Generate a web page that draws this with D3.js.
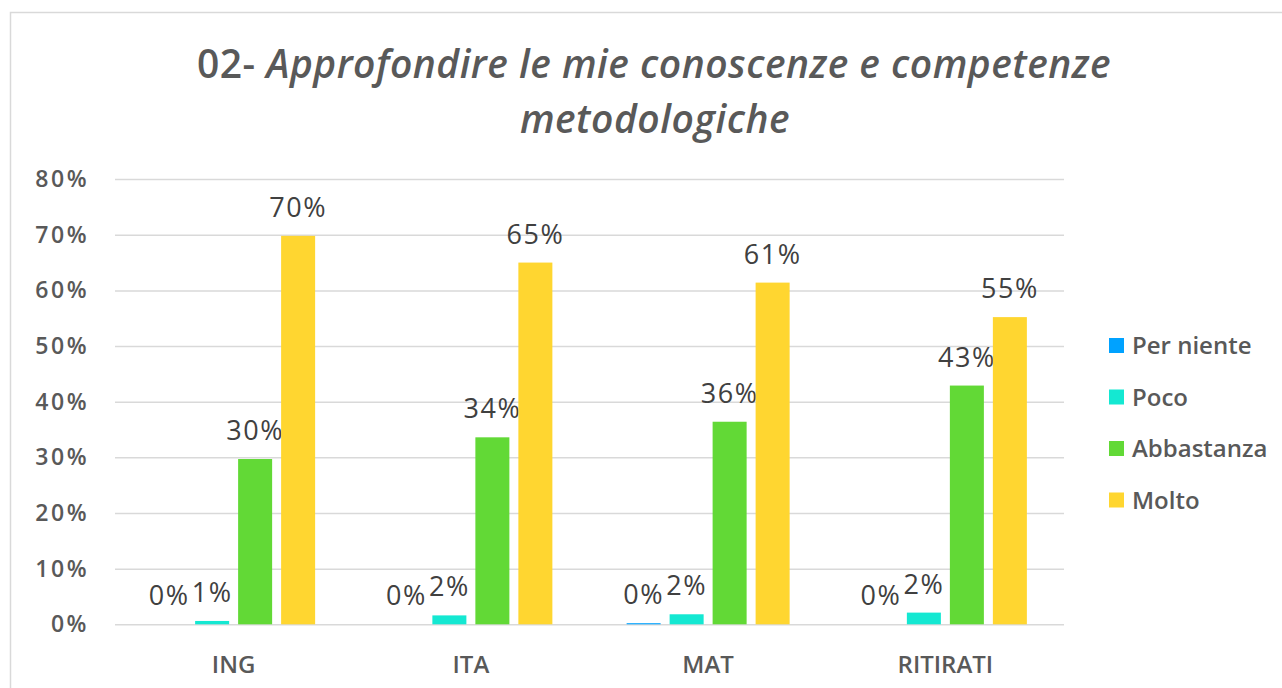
<!DOCTYPE html>
<html>
<head>
<meta charset="utf-8">
<script src="https://cdn.jsdelivr.net/npm/d3@7"></script>
<style>
  body { margin: 0; background: #fff; }
  svg { display: block; font-family: 'Open Sans', sans-serif; }
</style>
</head>
<body>
<svg id="chart" width="1282" height="688"></svg>
<script>
// data (percent)
var categories = ['ING', 'ITA', 'MAT', 'RITIRATI'];
var series = ['Per niente', 'Poco', 'Abbastanza', 'Molto'];
var perNiente = [0, 0, 0.2, 0];
var poco = [0.6, 1.6, 1.8, 2.1];
var abbastanza = [29.7, 33.6, 36.4, 42.9];
var molto = [69.8, 65.0, 61.4, 55.2];
var yTicks = [0, 10, 20, 30, 40, 50, 60, 70, 80];
var colors = ['#00a2ff', '#14e8d2', '#62d936', '#ffd630'];

var values = [perNiente, poco, abbastanza, molto];

var svg = d3.select('#chart');

// outer frame
svg.append('rect')
	.attr('x', 10.5)
	.attr('y', 12.5)
	.attr('width', 1300)
	.attr('height', 700)
	.attr('fill', '#fff')
	.attr('stroke', '#d9d9d9')
	.attr('stroke-width', 1.5);

// title
var title = svg.append('text')
	.attr('text-anchor', 'middle')
	.attr('fill', '#595959')
	.style('font-size', '39px')
	.style('font-weight', 600)
	.style('letter-spacing', '0.5px');
var t1 = title.append('tspan').attr('x', 654).attr('y', 78);
t1.append('tspan').text('02- ');
t1.append('tspan').style('font-style', 'italic').text('Approfondire le mie conoscenze e competenze');
title.append('tspan').attr('x', 655).attr('y', 133)
	.style('font-style', 'italic').text('metodologiche');

var pLeft = 115, pRight = 1064, pTop = 179.1, pBottom = 624.3;

var x0 = d3.scaleBand().domain(categories).range([pLeft, pRight]);
var x1 = d3.scaleBand().domain(series).range([0, 163]).paddingInner(0.209);
var y = d3.scaleLinear().domain([0, 80]).range([pBottom, pTop]);

// gridlines + y labels
var yAxis = svg.append('g')
	.attr('transform', 'translate(' + pLeft + ',0)')
	.call(d3.axisLeft(y).tickValues(yTicks).tickFormat(d => d + '%')
		.tickSize(-(pRight - pLeft)).tickPadding(26));
yAxis.select('.domain').remove();
yAxis.selectAll('line').attr('stroke', '#d9d9d9').attr('stroke-width', 1.5);
yAxis.selectAll('text')
	.attr('fill', '#595959')
	.style('font-family', "'Open Sans', sans-serif")
	.style('font-size', '23px')
	.style('font-weight', 600)
	.style('letter-spacing', '2.5px');

// bars
var groupOffset = (x0.bandwidth() - 163) / 2;
var groups = svg.selectAll('.grp')
	.data(categories)
	.enter().append('g')
	.attr('class', 'grp')
	.attr('transform', d => 'translate(' + (x0(d) + groupOffset) + ',0)');

groups.each(function(c, ci) {
	var g = d3.select(this);
	series.forEach(function(s, si) {
		var v = values[si][ci];
		g.append('rect')
			.attr('x', x1(s))
			.attr('y', y(v))
			.attr('width', x1.bandwidth())
			.attr('height', y(0) - y(v))
			.attr('fill', colors[si]);
		g.append('text')
			.attr('x', x1(s) + x1.bandwidth() / 2)
			.attr('y', y(v) - 19)
			.attr('text-anchor', 'middle')
			.attr('fill', '#404040')
			.style('font-size', '27px')
			.style('letter-spacing', '1.5px')
			.text(Math.round(v) + '%');
	});
});

// category labels
svg.selectAll('.cat')
	.data(categories)
	.enter().append('text')
	.attr('class', 'cat')
	.attr('x', d => x0(d) + x0.bandwidth() / 2)
	.attr('y', 673)
	.attr('text-anchor', 'middle')
	.attr('fill', '#595959')
	.style('font-size', '24px')
	.style('font-weight', 600)
	.text(d => d);

// legend
var legend = svg.selectAll('.leg')
	.data(series)
	.enter().append('g')
	.attr('class', 'leg')
	.attr('transform', (d, i) => 'translate(1109,' + (338 + i * 51.5) + ')');

legend.append('rect')
	.attr('width', 15)
	.attr('height', 15)
	.attr('fill', (d, i) => colors[i]);

legend.append('text')
	.attr('x', 23)
	.attr('y', 16)
	.attr('fill', '#595959')
	.style('font-size', '24px')
	.style('font-weight', 600)
	.text(d => d);
</script>
</body>
</html>
